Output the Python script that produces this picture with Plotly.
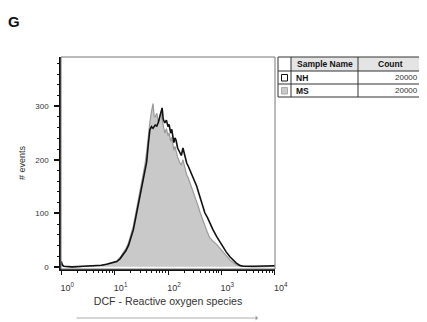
import plotly.graph_objects as go

# ---- data ----
log_pos = [0.00, 0.02, 0.05, 0.20, 0.42, 0.60, 0.75, 0.85, 0.95, 1.04, 1.10, 1.16, 1.21, 1.26, 1.30,
           1.35, 1.38, 1.41, 1.45, 1.48, 1.51, 1.54, 1.57, 1.60, 1.63, 1.66, 1.69, 1.72, 1.74, 1.76,
           1.79, 1.82, 1.85, 1.87, 1.89, 1.91, 1.94, 1.97, 2.00, 2.02, 2.05, 2.07, 2.09, 2.11, 2.13,
           2.15, 2.18, 2.22, 2.25, 2.28, 2.30, 2.33, 2.35, 2.38, 2.41, 2.44, 2.47, 2.50, 2.54, 2.57,
           2.60, 2.65, 2.69, 2.74, 2.78, 2.84, 2.91, 2.97, 3.03, 3.09, 3.16, 3.22, 3.28, 3.34, 3.41,
           3.60, 3.80, 3.95, 4.00]

nh_counts = [10, 4, 1, 0, 1, 2, 3, 5, 7, 10, 15, 22, 30, 40, 52,
             69, 84, 100, 116, 131, 147, 163, 178, 196, 228, 256, 262, 259, 262, 265,
             263, 270, 282, 292, 297, 276, 269, 274, 262, 266, 250, 257, 244, 232, 241,
             237, 222, 215, 208, 222, 215, 200, 194, 188, 181, 175, 169, 160, 150, 140,
             131, 115, 101, 92, 82, 70, 57, 47, 38, 28, 19, 12, 7, 3, 1,
             1, 1, 1, 2]

ms_counts = [6, 2, 1, 0, 1, 2, 3, 5, 8, 11, 17, 25, 34, 45, 58,
             76, 92, 108, 125, 140, 157, 175, 192, 215, 245, 270, 290, 305, 282, 280,
             287, 270, 283, 288, 275, 262, 250, 258, 245, 250, 235, 242, 228, 218, 225,
             215, 205, 195, 190, 200, 190, 180, 172, 166, 158, 150, 142, 133, 122, 112,
             102, 88, 76, 64, 55, 48, 42, 35, 28, 20, 13, 8, 4, 2, 1,
             0, 0, 0, 1]

x_tick_vals = [1, 10, 100, 1000, 10000]
x_tick_text = ["10<sup>0</sup>", "10<sup>1</sup>", "10<sup>2</sup>", "10<sup>3</sup>", "10<sup>4</sup>"]
y_tick_vals = [0, 100, 200, 300]

sample_names = ["NH", "MS"]
sample_counts = ["20000", "20000"]

x_vals = [10 ** p for p in log_pos]

FONT = "Liberation Sans, Arial, sans-serif"
TXT = "#333333"

fig = go.Figure()
fig.add_trace(go.Scatter(x=x_vals, y=ms_counts, mode="lines", fill="tozeroy",
                         fillcolor="#c9c9c9", line=dict(color="#9a9a9a", width=1.2),
                         name="MS", showlegend=False, hoverinfo="skip"))
fig.add_trace(go.Scatter(x=x_vals, y=nh_counts, mode="lines",
                         line=dict(color="#111111", width=1.6),
                         name="NH", showlegend=False, hoverinfo="skip"))

minor_x = [m * 10 ** k for k in range(4) for m in range(2, 10)]
minor_y = [v for v in range(20, 400, 20) if v % 100 != 0]

# page body has an 8px default margin, so the figure is 8px smaller and everything is
# positioned relative to the page via the plot-area helpers below
fig.update_layout(
    width=419, height=314,
    margin=dict(l=53, r=152, t=49, b=53),
    paper_bgcolor="white", plot_bgcolor="white",
    font=dict(family=FONT, color=TXT, size=9),
    xaxis=dict(type="log", range=[-0.005, 4.005], showgrid=False, zeroline=False, automargin=False,
               showline=True, linecolor="#111", linewidth=1.5,
               ticks="outside", ticklen=4, tickwidth=1.2, tickcolor="#111",
               tickvals=x_tick_vals, ticktext=x_tick_text,
               tickfont=dict(size=9, color=TXT), ticklabelstandoff=5, ticklabelshift=6,
               minor=dict(tickvals=minor_x, ticks="outside", ticklen=2.5, tickcolor="#111", tickwidth=1),
               title=dict(text="DCF - Reactive oxygen species", font=dict(size=10.6, color=TXT), standoff=6)),
    yaxis=dict(range=[-4, 392], showgrid=False, zeroline=False, automargin=False,
               showline=True, linecolor="#111", linewidth=1.5,
               ticks="outside", ticklen=5, tickwidth=1.5, tickcolor="#111",
               tickvals=y_tick_vals, tickfont=dict(size=8, color=TXT), ticklabelstandoff=4,
               minor=dict(tickvals=minor_y, ticks="outside", ticklen=2.5, tickcolor="#111", tickwidth=1),
               title=dict(text="# events", font=dict(size=9, color=TXT), standoff=8)),
)

# frame around plot (top / right)
fig.add_shape(type="rect", xref="paper", yref="paper", x0=0, x1=1, y0=0, y1=1,
              line=dict(color="#777", width=1), layer="above")

# page-pixel helpers -> paper coords (plot area on page: x 61..275, y 57..269)
PL, PW, PT, PH = 61, 214, 57, 212
def px(x):
    return (x - PL) / PW
def py(y):
    return (PT + PH - y) / PH

# panel letter
fig.add_annotation(text="<b>G</b>", xref="paper", yref="paper", x=px(14), y=py(21),
                   xanchor="center", yanchor="middle", showarrow=False,
                   font=dict(size=15, color="#111", family=FONT))

# arrow below axis title
fig.add_annotation(xref="paper", yref="paper", x=px(258), y=py(318),
                   ax=-183, ay=0, axref="pixel", ayref="pixel", text="",
                   showarrow=True, arrowhead=1, arrowsize=1, arrowwidth=0.8, arrowcolor="#999")

# ---- table ----
tx0, tx1, tx2, tx3 = 278, 291, 358, 422
ty0, ty1, ty2, ty3 = 57, 71, 84, 97

fig.add_shape(type="rect", xref="paper", yref="paper", x0=px(tx1), x1=px(tx3), y0=py(ty1), y1=py(ty0),
              fillcolor="#e4e4e4", line=dict(width=0))
fig.add_shape(type="rect", xref="paper", yref="paper", x0=px(tx0), x1=px(tx3), y0=py(ty3), y1=py(ty0),
              line=dict(color="#333", width=1), fillcolor="rgba(0,0,0,0)")
for yy in (ty1, ty2):
    fig.add_shape(type="line", xref="paper", yref="paper", x0=px(tx0), x1=px(tx3), y0=py(yy), y1=py(yy),
                  line=dict(color="#333", width=1))
for xx in (tx1, tx2):
    fig.add_shape(type="line", xref="paper", yref="paper", x0=px(xx), x1=px(xx), y0=py(ty3), y1=py(ty0),
                  line=dict(color="#333", width=1))

fig.add_annotation(text="<b>Sample Name</b>", xref="paper", yref="paper", x=px((tx1 + tx2) / 2),
                   y=py((ty0 + ty1) / 2), showarrow=False, xanchor="center", yanchor="middle",
                   font=dict(size=8.5, color="#111"))
fig.add_annotation(text="<b>Count</b>", xref="paper", yref="paper", x=px((tx2 + tx3) / 2),
                   y=py((ty0 + ty1) / 2), showarrow=False, xanchor="center", yanchor="middle",
                   font=dict(size=8.5, color="#111"))

box_fill = ["white", "#c9c9c9"]
box_line = ["#111", "#aaa"]
rows = [(ty1, ty2), (ty2, ty3)]
for i, (r0, r1) in enumerate(rows):
    cy = (r0 + r1) / 2
    fig.add_shape(type="rect", xref="paper", yref="paper", x0=px(281.5), x1=px(287.5),
                  y0=py(cy + 3.5), y1=py(cy - 3), fillcolor=box_fill[i], line=dict(color=box_line[i], width=1))
    fig.add_annotation(text="<b>" + sample_names[i] + "</b>", xref="paper", yref="paper", x=px(294),
                       y=py(cy + 0.5), showarrow=False, xanchor="left", yanchor="middle",
                       font=dict(size=8.5, color="#111"))
    fig.add_annotation(text=sample_counts[i], xref="paper", yref="paper", x=px(420),
                       y=py(cy), showarrow=False, xanchor="right", yanchor="middle",
                       font=dict(size=8, color="#333"))

fig.write_html("out.html")
